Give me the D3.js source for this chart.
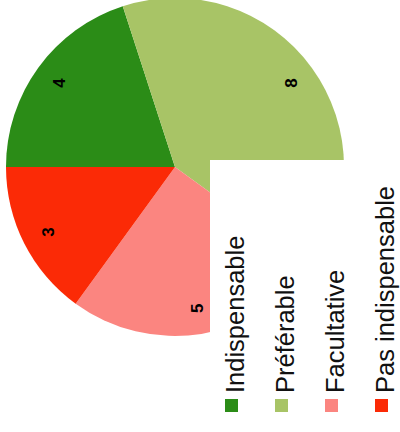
<!DOCTYPE html>
<html>
<head>
<meta charset="utf-8">
<script src="https://cdn.jsdelivr.net/npm/d3@7"></script>
<style>
  html, body { margin: 0; padding: 0; background: #fff; }
  svg { display: block; }
</style>
</head>
<body>
<svg id="chart" width="400" height="432"></svg>
<script>
const categories = ["Indispensable", "Préférable", "Facultative", "Pas indispensable"];
const values = [4, 8, 5, 3];
const colors = ["#2b8c17", "#a8c466", "#fb8580", "#fb2a06"];

const W = 400, H = 432;
const cx = 175, cy = 167, R = 169, labelR = 143;

const svg = d3.select("#chart");

const pie = d3.pie().sort(null).value(d => d.v);
const arcs = pie(categories.map((c, i) => ({ c, v: values[i], col: colors[i] })));
const arc = d3.arc().innerRadius(0).outerRadius(R);
const labelArc = d3.arc().innerRadius(labelR).outerRadius(labelR);

// whole chart is rotated a quarter turn counter-clockwise
const g = svg.append("g").attr("transform", `translate(${cx},${cy}) rotate(-90)`);

g.selectAll("path.slice")
  .data(arcs)
  .join("path")
  .attr("class", "slice")
  .attr("d", arc)
  .attr("fill", d => d.data.col);

g.selectAll("text.val")
  .data(arcs)
  .join("text")
  .attr("class", "val")
  .attr("transform", d => `translate(${labelArc.centroid(d)})`)
  .attr("text-anchor", "middle")
  .attr("dy", "0.36em")
  .attr("font-family", "'Liberation Sans', Arial, sans-serif")
  .attr("font-weight", "bold")
  .attr("font-size", 17)
  .attr("fill", "#000")
  .text(d => d.data.v);

// legend box
const legendX = 210, legendY = 160;
svg.append("rect")
  .attr("x", legendX).attr("y", legendY)
  .attr("width", W - legendX).attr("height", H - legendY)
  .attr("fill", "#fff");

const ly = d3.scalePoint().domain(categories).range([244, 394]);

const items = svg.selectAll("g.leg")
  .data(categories)
  .join("g")
  .attr("class", "leg");

items.append("rect")
  .attr("x", d => ly(d) - 19)
  .attr("y", 399)
  .attr("width", 13)
  .attr("height", 13)
  .attr("fill", (d, i) => colors[i]);

items.append("text")
  .attr("transform", d => `translate(${ly(d)},393) rotate(-90)`)
  .attr("font-family", "'Liberation Sans', Arial, sans-serif")
  .attr("font-size", 25.5)
  .attr("fill", "#111")
  .text(d => d);
</script>
</body>
</html>
